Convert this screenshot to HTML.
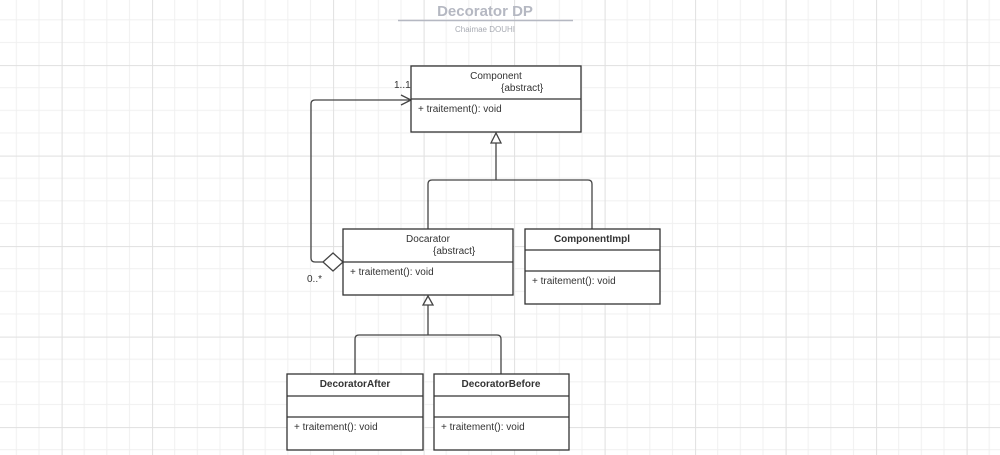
<!DOCTYPE html>
<html><head><style>
html,body{margin:0;padding:0;background:#fff;}
svg{display:block;}
text{font-family:"Liberation Sans",sans-serif;fill:#333;}
</style></head><body>
<svg width="1000" height="455" xmlns="http://www.w3.org/2000/svg">
<defs>
<pattern id="g" x="-28.9" y="-25.4" width="90.5" height="90.5" patternUnits="userSpaceOnUse">
<path d="M22.6 0V90.5M45.25 0V90.5M67.9 0V90.5M0 22.6H90.5M0 45.25H90.5M0 67.9H90.5" stroke="#f0f0f0" stroke-width="1" fill="none"/>
<path d="M0.5 0V90.5M0 0.5H90.5" stroke="#e0e0e0" stroke-width="1" fill="none"/>
</pattern>
</defs>
<rect width="1000" height="455" fill="url(#g)"/>
<text x="485" y="16" font-size="15" font-weight="bold" text-anchor="middle" style="fill:#b5b8c2">Decorator DP</text>
<line x1="398" y1="20.5" x2="573" y2="20.5" stroke="#b5b8c2" stroke-width="1.5"/>
<text x="485" y="32" font-size="8" text-anchor="middle" style="fill:#a8abb3">Chaimae DOUHI</text>

<g stroke="#444" stroke-width="1.3" fill="none">
<path d="M496 143V180M428 229V184q0-4 4-4H588q4 0 4 4V229"/>
<path d="M496 133l-5 10h10z" fill="#fff"/>
<path d="M428 305V335M355 374V339q0-4 4-4H497q4 0 4 4V374"/>
<path d="M428 296l-5 9h10z" fill="#fff"/>
<path d="M323 262H315q-4 0-4-4V104q0-4 4-4H411"/>
<path d="M401 95l10 5-10 5"/>
<path d="M323 262l10-9 10 9-10 9z" fill="#fff"/>
</g>
<text x="394" y="88" font-size="10">1..1</text>
<text x="307" y="282" font-size="10">0..*</text>

<g stroke="#333" stroke-width="1.3" fill="#fff">
<rect x="411" y="66" width="170" height="66"/><line x1="411" y1="99" x2="581" y2="99"/>
<rect x="343" y="229" width="170" height="66"/><line x1="343" y1="262" x2="513" y2="262"/>
<rect x="525" y="229" width="135" height="75"/><line x1="525" y1="250" x2="660" y2="250"/><line x1="525" y1="271" x2="660" y2="271"/>
<rect x="287" y="374" width="136" height="76"/><line x1="287" y1="396" x2="423" y2="396"/><line x1="287" y1="417" x2="423" y2="417"/>
<rect x="434" y="374" width="135" height="76"/><line x1="434" y1="396" x2="569" y2="396"/><line x1="434" y1="417" x2="569" y2="417"/>
</g>
<g font-size="10">
<text x="496" y="79" text-anchor="middle">Component</text>
<text x="501" y="91">{abstract}</text>
<text x="418" y="112">+ traitement(): void</text>
<text x="428" y="242" text-anchor="middle">Docarator</text>
<text x="433" y="254">{abstract}</text>
<text x="350" y="275">+ traitement(): void</text>
<text x="592" y="242" text-anchor="middle" font-weight="bold">ComponentImpl</text>
<text x="532" y="284">+ traitement(): void</text>
<text x="355" y="387" text-anchor="middle" font-weight="bold">DecoratorAfter</text>
<text x="294" y="430">+ traitement(): void</text>
<text x="501" y="387" text-anchor="middle" font-weight="bold">DecoratorBefore</text>
<text x="441" y="430">+ traitement(): void</text>
</g>
</svg>
</body></html>
